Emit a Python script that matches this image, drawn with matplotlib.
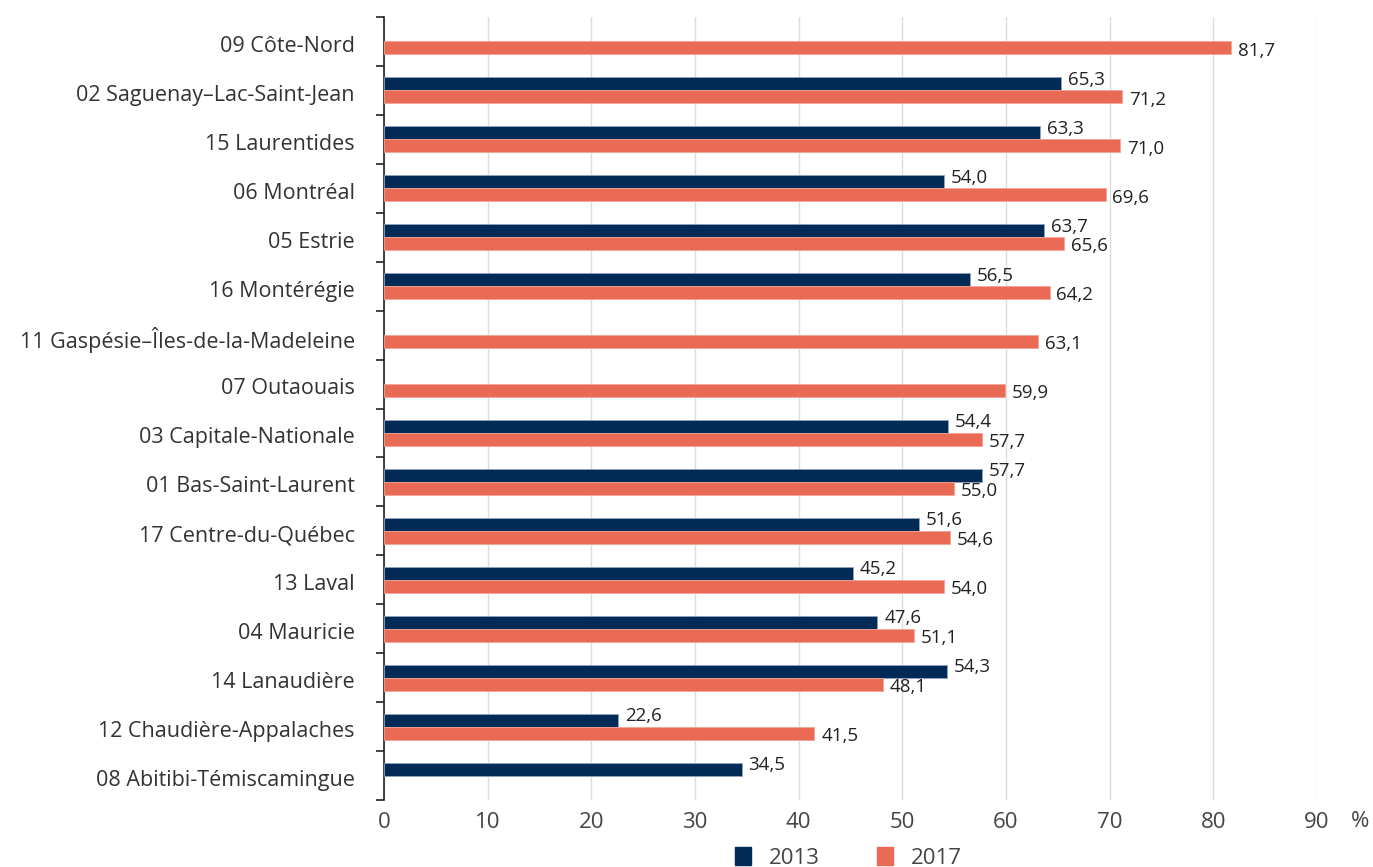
import matplotlib.pyplot as plt
import numpy as np

plt.rcParams['font.family'] = ['Open Sans', 'DejaVu Sans']

regions = [
    "09 Côte-Nord",
    "02 Saguenay–Lac-Saint-Jean",
    "15 Laurentides",
    "06 Montréal",
    "05 Estrie",
    "16 Montérégie",
    "11 Gaspésie–Îles-de-la-Madeleine",
    "07 Outaouais",
    "03 Capitale-Nationale",
    "01 Bas-Saint-Laurent",
    "17 Centre-du-Québec",
    "13 Laval",
    "04 Mauricie",
    "14 Lanaudière",
    "12 Chaudière-Appalaches",
    "08 Abitibi-Témiscamingue",
]
# None = no value for that year
vals_2013 = [None, 65.3, 63.3, 54.0, 63.7, 56.5, None, None, 54.4, 57.7,
             51.6, 45.2, 47.6, 54.3, 22.6, 34.5]
vals_2017 = [81.7, 71.2, 71.0, 69.6, 65.6, 64.2, 63.1, 59.9, 57.7, 55.0,
             54.6, 54.0, 51.1, 48.1, 41.5, None]
xticks = [0, 10, 20, 30, 40, 50, 60, 70, 80, 90]

c2013 = "#012a57"
c2017 = "#e96a55"
txt = "#333333"

fig = plt.figure(figsize=(13.73, 8.67), dpi=100)
ax = fig.add_axes([384 / 1373, 1 - 800 / 867, (1317 - 384) / 1373, 783 / 867])

y = np.arange(len(regions))
h = 0.265


def fmt(v):
    return f"{v:.1f}".replace(".", ",")


for i in range(len(regions)):
    v = vals_2013[i]
    if v is not None:
        ax.barh(y[i] - h / 2, v, height=h, color=c2013, edgecolor="#8fa3bd",
                linewidth=0.6, zorder=3)
        ax.annotate(fmt(v), (v, y[i] - h / 2), xytext=(5, 3),
                    textcoords="offset points", va="center", ha="left",
                    fontsize=13.5, color="#222222")
    v = vals_2017[i]
    if v is not None:
        ax.barh(y[i] + h / 2, v, height=h, color=c2017, edgecolor="#f2a395",
                linewidth=0.6, zorder=3)
        ax.annotate(fmt(v), (v, y[i] + h / 2), xytext=(5, -2),
                    textcoords="offset points", va="center", ha="left",
                    fontsize=13.5, color="#222222")

ax.set_xlim(0, 90)
ax.set_ylim(len(regions) - 0.5, -0.5)
ax.set_xticks(xticks)
ax.set_xticklabels([str(t) for t in xticks], fontsize=16, color="#444444")
ax.tick_params(axis="x", length=0, pad=9)
ax.grid(axis="x", color="#dddddd", linewidth=1, zorder=0)
ax.set_axisbelow(True)

# category labels between boundary ticks
ax.set_yticks(np.arange(len(regions) + 1) - 0.5)
ax.set_yticklabels([])
ax.tick_params(axis="y", length=6, width=1.2, color="#222222")
ax.set_yticks(y + 0.05, minor=True)
ax.set_yticklabels(regions, minor=True, fontsize=15.5, color=txt)
ax.tick_params(axis="y", which="minor", length=0, pad=21)

for s in ["top", "right", "bottom"]:
    ax.spines[s].set_visible(False)
ax.spines["left"].set_color("#222222")
ax.spines["left"].set_linewidth(1.2)

ax.text(1.046, -0.028, "%", transform=ax.transAxes, fontsize=16,
        color="#444444", ha="center", va="center")

handles = [plt.Rectangle((0, 0), 1, 1, color=c2013),
           plt.Rectangle((0, 0), 1, 1, color=c2017)]
ax.legend(handles, ["2013", "2017"], loc="center", ncol=2,
          bbox_to_anchor=(0.498, -0.074), frameon=False, fontsize=16,
          handlelength=0.7, handleheight=0.9, columnspacing=2.6,
          labelcolor="#444444")

fig.savefig("out.png", dpi=100)
